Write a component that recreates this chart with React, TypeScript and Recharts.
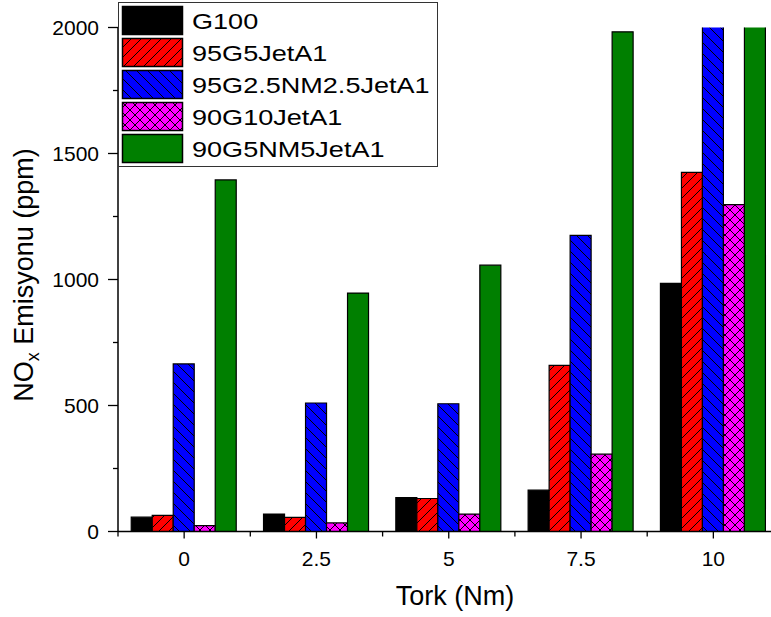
import React from 'react';
import { BarChart, Bar, XAxis, YAxis } from 'recharts';

const torque = ['0', '2.5', '5', '7.5', '10'];
const seriesNames = ['G100', '95G5JetA1', '95G2.5NM2.5JetA1', '90G10JetA1', '90G5NM5JetA1'];
const g100 = [57, 69, 135, 164, 985];
const g95jet = [64, 56, 131, 659, 1425];
const g95nm = [665, 510, 507, 1175, 2150];
const g90jet = [23, 34, 69, 307, 1297];
const g90nm = [1395, 946, 1057, 1983, 2250];
const yTicks = [0, 250, 500, 750, 1000, 1250, 1500, 1750, 2000];

const keys = ['g100', 'g95jet', 'g95nm', 'g90jet', 'g90nm'];
const fills = ['#000000', 'url(#patRed)', 'url(#patBlue)', 'url(#patMag)', '#007F00'];

const data = torque.map((t, i) => ({
  t,
  g100: g100[i],
  g95jet: g95jet[i],
  g95nm: g95nm[i],
  g90jet: g90jet[i],
  g90nm: g90nm[i],
}));

const FONT = '"Liberation Sans", Arial, sans-serif';

const YTick = (props: any) => {
  const { x, y, payload } = props;
  const major = payload.value % 500 === 0;
  return (
    <g>
      <line x1={x} x2={x - (major ? 10 : 5)} y1={y} y2={y} stroke="#000" strokeWidth={1.3} />
      {major && (
        <text x={x - 19} y={y} dy="0.36em" textAnchor="end" fontSize={21} fontFamily={FONT} fill="#000">
          {payload.value}
        </text>
      )}
    </g>
  );
};

const XTick = (props: any) => {
  const { x, y, payload } = props;
  const half = typeof payload.offset === 'number' && payload.offset > 0 ? payload.offset : 66.15;
  return (
    <g>
      <line x1={x} x2={x} y1={y} y2={y + 7} stroke="#000" strokeWidth={1.3} />
      <line x1={x - half} x2={x - half} y1={y} y2={y + 5} stroke="#000" strokeWidth={1.3} />
      <text x={x} y={y + 34} textAnchor="middle" fontSize={21} fontFamily={FONT} fill="#000">
        {payload.value}
      </text>
    </g>
  );
};

export default function App() {
  return (
    <div style={{ position: 'absolute', left: 0, top: 0, width: 771, height: 617, overflow: 'hidden', background: '#fff' }}>
      <svg width={0} height={0} style={{ position: 'absolute' }}>
        <defs>
          <pattern id="patRed" patternUnits="userSpaceOnUse" width={10} height={10}>
            <rect width={10} height={10} fill="#FF0000" />
            <path d="M-1,1 L1,-1 M0,10 L10,0 M9,11 L11,9" stroke="#000" strokeWidth={1} />
          </pattern>
          <pattern id="patBlue" patternUnits="userSpaceOnUse" width={11} height={11}>
            <rect width={11} height={11} fill="#0000FF" />
            <path d="M0,0 L11,11 M-1,10 L1,12 M10,-1 L12,1" stroke="#000" strokeWidth={1} />
          </pattern>
          <pattern id="patMag" patternUnits="userSpaceOnUse" width={10} height={10}>
            <rect width={10} height={10} fill="#FF00FF" />
            <path d="M0,0 L10,10 M-1,9 L1,11 M9,-1 L11,1 M-1,1 L1,-1 M0,10 L10,0 M9,11 L11,9" stroke="#000" strokeWidth={1} />
          </pattern>
        </defs>
      </svg>
      <div style={{ position: 'absolute', left: 0, top: 0 }}>
        <BarChart
          width={800}
          height={617}
          data={data}
          margin={{ top: 27.5, right: 20.5, left: 0, bottom: 25.5 }}
          barCategoryGap="10%"
          barGap={0}
        >
          <XAxis
            dataKey="t"
            type="category"
            height={60}
            tickSize={0}
            tickMargin={0}
            tickLine={false}
            tick={<XTick />}
            interval={0}
            axisLine={{ stroke: '#000', strokeWidth: 1.5 }}
          />
          <YAxis
            type="number"
            domain={[0, 2000]}
            allowDataOverflow
            ticks={yTicks}
            interval={0}
            width={118}
            tickSize={0}
            tickMargin={0}
            tickLine={false}
            tick={<YTick />}
            axisLine={{ stroke: '#000', strokeWidth: 1.5 }}
          />
          {keys.map((k, i) => (
            <Bar key={k} dataKey={k} name={seriesNames[i]} fill={fills[i]} stroke="#000" strokeWidth={1.2} isAnimationActive={false} />
          ))}
        </BarChart>
      </div>
      <svg width={771} height={617} style={{ position: 'absolute', left: 0, top: 0, pointerEvents: 'none' }}>
        <rect x={118.5} y={2.5} width={319} height={164} fill="#fff" stroke="#333" strokeWidth={1} />
        {seriesNames.map((n, i) => (
          <g key={n}>
            <rect x={122.5} y={6.5 + i * 32} width={60} height={28} fill={fills[i]} stroke="#000" strokeWidth={1.5} />
            <text
              transform={`translate(192, ${29.3 + i * 32}) scale(1.23, 1)`}
              x={0}
              y={0}
              fontSize={22}
              fontFamily={FONT}
              fill="#000"
            >
              {n}
            </text>
          </g>
        ))}
        <text x={455} y={605} textAnchor="middle" fontSize={27} fontFamily={FONT} fill="#000">
          Tork (Nm)
        </text>
        <text transform="translate(33, 275) rotate(-90)" textAnchor="middle" fontSize={27} fontFamily={FONT} fill="#000">
          NO<tspan fontSize={18} dy={6}>x</tspan>
          <tspan dy={-6}> Emisyonu (ppm)</tspan>
        </text>
      </svg>
    </div>
  );
}
